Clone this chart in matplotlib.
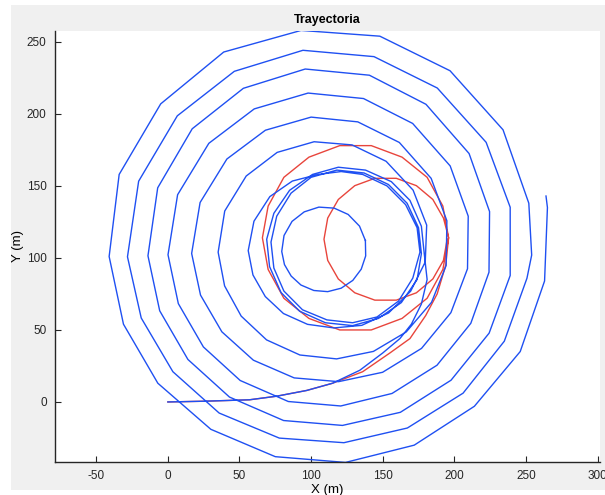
import matplotlib
matplotlib.use("Agg")
import matplotlib.pyplot as plt
from matplotlib.patches import Rectangle
import numpy as np

approach_x = [0, 25, 57, 76, 97, 115, 134, 150, 162, 170, 177, 181]
approach_y = [0, 0.5, 1.5, 4, 8, 13, 22, 34, 44, 54, 68, 85]
loop1_x = [179, 177, 169, 156, 138, 119, 101, 85, 74, 69, 71, 79, 92, 110, 129, 147, 163, 174]
loop1_y = [103, 122, 140, 153, 161, 163, 158, 147, 131, 113, 94, 76, 63, 55, 53, 58, 69, 85]
loop2_x = [177, 175, 167, 154, 137, 118, 100, 86, 76, 72, 74, 81, 94, 111, 129, 146, 161, 171]
loop2_y = [103, 121, 138, 151, 159, 161, 156, 145, 129, 111, 93, 77, 64, 57, 55, 59, 70, 86]
loop3_x = [176, 174, 166, 153, 136, 121]
loop3_y = [104, 121, 137, 150, 158, 160]
turn_g_x = [104.9, 86.9, 71.2, 60.1, 56.1, 59.4, 68, 80.7, 97.5, 115.9, 135.4, 154.1, 169.5, 179.7]
turn_g_y = [158, 153.4, 142.6, 125.5, 105.1, 88.2, 73.2, 61.4, 53.9, 51.4, 53.2, 61.8, 76.9, 97.2]
turn_f_x = [180.7, 171.2, 152.4, 128.6, 102.1, 76.3, 54.7, 39.7, 35.1, 39.6, 51.2, 68.9, 92.2, 117.8, 143.5, 166.4, 184.1, 194.3]
turn_f_y = [122.8, 147.1, 167.1, 178.5, 180.7, 173.3, 156.9, 132.6, 104, 80.6, 59.6, 43.1, 32.6, 29.9, 35.1, 48.6, 69.2, 94.8]
turn_e_x = [194.8, 183.8, 161.6, 132.6, 100, 68.1, 41.2, 22.5, 16.6, 22.8, 37.7, 59.7, 88.2, 119.2, 149.9, 177.1, 197.6, 209.2]
turn_e_y = [125.8, 155.3, 180.2, 194.5, 197.8, 188.7, 168.7, 138.5, 103.1, 74.2, 48.7, 29, 16.7, 14.1, 20.6, 37.2, 62, 92.5]
turn_d_x = [209.7, 197.1, 170.9, 136.6, 97.9, 60.3, 28.6, 6.8, 0.1, 7.3, 24.8, 50.5, 84.1, 120.7, 156.5, 187.9, 211.5, 224.2]
turn_d_y = [129, 163.9, 193.4, 210.7, 214.5, 203.5, 179.6, 143.9, 102.2, 68.3, 38.2, 14.9, 0.3, -2.8, 5.9, 25.5, 54.6, 90.1]
turn_c_x = [224.6, 210.3, 180.2, 140.7, 95.9, 52.7, 17, -7.1, -13.9, -5.7, 14, 43, 80.8, 121.9, 162.3, 197.7, 224.3, 239]
turn_c_y = [132.2, 172.5, 206.7, 226.9, 231.2, 217.8, 189.7, 148.7, 101.5, 63.3, 29.5, 3.4, -12.9, -16.3, -7.2, 15.1, 47.8, 87.8]
turn_b_x = [239, 222.2, 188.1, 143.9, 94.3, 46.4, 6.6, -20.4, -28.2, -18.6, 3.5, 35.8, 77.8, 122.9, 167.2, 206.1, 234.9, 250.7, 254]
turn_b_y = [135.2, 180.3, 218, 239.8, 244.2, 229.6, 198.7, 153.3, 100.8, 58.3, 21, -7.7, -25.1, -28.3, -18.1, 6.1, 42.2, 85.9, 102]
turn_a_x = [252, 234, 197, 148, 93, 39, -5, -34, -41, -31, -7, 30, 75, 124, 172, 214, 246, 263, 265, 264]
turn_a_y = [138, 189, 230, 254, 258, 243, 207, 158, 101, 54, 13, -19, -38, -42, -30, -3, 35, 84, 135, 143]

# small closed blue circle in the middle
inner_x = [137.9, 133.8, 125.9, 116.1, 105.4, 95.2, 86.7, 81.1, 79.5, 81.4, 86.1, 92.9, 101.9, 111.6, 121, 129.1, 135, 138.1, 137.9]
inner_y = [112.1, 122.1, 130.2, 134.6, 135.3, 132, 125.4, 115.6, 104.5, 95.4, 87.4, 81.2, 77.4, 76.6, 79, 84.4, 92.2, 101.4, 112.1]

# red trajectory (reference)
red_in_x = [0, 25, 57, 76, 97, 115, 136, 155, 169, 180, 188, 194, 196]
red_in_y = [0, 0.5, 1.5, 4, 8, 13, 21, 34, 44, 60, 75, 95, 114]
red_big_x = [192, 181, 163.5, 142, 120, 98.5, 81, 70, 66, 70, 81, 98.5, 120, 142, 163.5, 181, 192, 196]
red_big_y = [136, 156, 170, 178, 178, 170, 156, 136, 114, 92, 72, 58, 50, 50, 58, 72, 92, 114]
red_small_x = [192.4, 185, 173.5, 159.5, 144.5, 130.5, 119, 111.6, 109, 111.6, 119, 130.5, 144.5, 159.5, 173.5, 185, 192.4, 195]
red_small_y = [127.7, 140.6, 150.2, 155.3, 155.3, 150.2, 140.6, 127.7, 113, 98.3, 85.4, 75.8, 70.7, 70.7, 75.8, 85.4, 98.3, 113]

blue_x = np.concatenate([approach_x, loop1_x, loop2_x, loop3_x, turn_g_x, turn_f_x,
                         turn_e_x, turn_d_x, turn_c_x, turn_b_x, turn_a_x])
blue_y = np.concatenate([approach_y, loop1_y, loop2_y, loop3_y, turn_g_y, turn_f_y,
                         turn_e_y, turn_d_y, turn_c_y, turn_b_y, turn_a_y])
red_x = np.concatenate([red_in_x, red_big_x, red_small_x])
red_y = np.concatenate([red_in_y, red_big_y, red_small_y])

plt.rcParams['font.family'] = ['Liberation Sans', 'DejaVu Sans']
plt.rcParams['axes.unicode_minus'] = False

fig = plt.figure(figsize=(6.05, 4.95), dpi=100, facecolor='white')
# grey window background like the screenshot
fig.patches.append(Rectangle((11 / 605, 5 / 495), 1, 485 / 495, transform=fig.transFigure,
                             facecolor='#f0f0f0', edgecolor='none', zorder=-1))
ax = fig.add_axes([55 / 605, 33 / 495, 545 / 605, 431 / 495])
ax.set_facecolor('white')

ax.plot(red_x, red_y, color='#e8453c', linewidth=1.0)
ax.plot(blue_x, blue_y, color='#1f50f2', linewidth=1.0)
ax.plot(inner_x, inner_y, color='#1f50f2', linewidth=1.0)

ax.set_xlim(-78.8, 301.7)
ax.set_ylim(-41.7, 257.6)
ax.set_xticks([-50, 0, 50, 100, 150, 200, 250, 300])
ax.set_yticks([0, 50, 100, 150, 200, 250])

for side in ['top', 'right']:
    ax.spines[side].set_visible(False)
for side in ['left', 'bottom']:
    ax.spines[side].set_color('#262626')
    ax.spines[side].set_linewidth(1.0)
ax.tick_params(direction='in', length=4, width=0.8, colors='#262626', labelsize=8.5, pad=6)

ax.set_title('Trayectoria', fontsize=9, fontweight='bold', pad=6)
ax.set_xlabel('X (m)', fontsize=9.5, labelpad=1)
ax.set_ylabel('Y (m)', fontsize=9.5, labelpad=2)

fig.savefig('out.png', dpi=100, facecolor=fig.get_facecolor())
